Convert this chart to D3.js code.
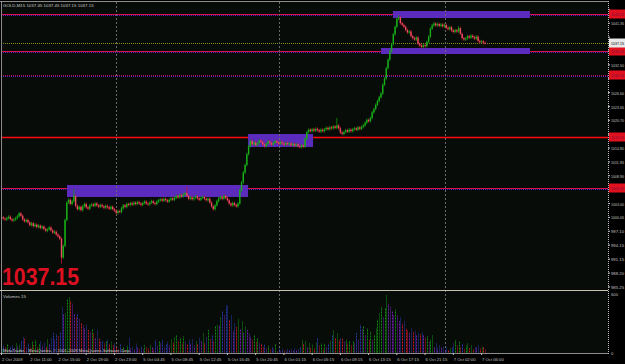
<!DOCTYPE html>
<html>
<head>
<meta charset="utf-8">
<script src="https://cdn.jsdelivr.net/npm/d3@7"></script>
<style>
  body { margin: 0; background: #000; }
  svg { display: block; }
  text { font-family: "Liberation Sans", Arial, sans-serif; }
</style>
</head>
<body>
<div id="chart"></div>
<script>
// GOLD M15 closes, one per bar (open = previous close)
var closes = [
  1000.1, 999.8, 999.6, 999.9, 1000.2, 999.7, 999.4, 999.6, 999.9, 1000.3,
  1000.9, 1000.4, 999.6, 999.2, 999.5, 999.0, 998.4, 998.8, 998.2, 998.5,
  998.0, 998.3, 997.8, 998.1, 997.6, 997.2, 997.5, 997.9, 997.3, 996.8,
  997.0, 996.4, 996.0, 995.5, 991.5, 994.0, 999.5, 1003.2, 1003.8, 1002.9,
  1003.5, 1004.6, 1002.5, 1001.8, 1002.3, 1001.6, 1002.4, 1002.9, 1002.2, 1001.9,
  1002.6, 1002.8, 1002.5, 1003.0, 1002.6, 1002.3, 1002.7, 1002.4, 1002.1, 1002.5,
  1002.2, 1001.9, 1002.3, 1001.8, 1001.5, 1001.0, 1001.4, 1001.2, 1002.0, 1002.6,
  1002.3, 1002.9, 1002.7, 1003.1, 1002.8, 1003.2, 1002.9, 1003.3, 1003.0, 1002.7,
  1003.1, 1003.4, 1003.0, 1002.8, 1003.2, 1003.5, 1003.1, 1002.9, 1003.4, 1003.7,
  1003.9, 1003.6, 1004.0, 1003.7, 1003.4, 1003.8, 1004.1, 1003.8, 1004.2, 1004.6,
  1004.3, 1004.8, 1004.5, 1004.9, 1005.2, 1004.6, 1004.0, 1004.3, 1003.9, 1004.2,
  1004.5, 1004.1, 1003.8, 1004.2, 1004.4, 1004.0, 1003.7, 1004.0, 1003.2, 1002.4,
  1001.8, 1002.6, 1003.5, 1004.1, 1004.4, 1004.0, 1004.6, 1004.2, 1003.7, 1003.0,
  1002.6, 1003.1, 1002.7, 1002.4, 1003.0, 1005.8, 1007.5, 1009.6, 1011.2, 1013.5,
  1015.2, 1016.3, 1015.6, 1016.0, 1015.4, 1015.8, 1016.4, 1016.1, 1015.6, 1015.2,
  1015.7, 1016.2, 1015.9, 1015.5, 1015.9, 1016.3, 1016.0, 1015.7, 1016.1, 1015.8,
  1015.5, 1015.9, 1015.6, 1015.8, 1015.4, 1015.7, 1015.3, 1015.6, 1015.2, 1015.0,
  1015.4, 1015.1, 1016.8, 1018.2, 1018.7, 1018.4, 1018.8, 1018.5, 1018.9, 1018.6,
  1018.3, 1018.7, 1018.4, 1018.8, 1019.1, 1018.8, 1019.2, 1019.0, 1019.4, 1019.1,
  1019.6, 1019.0, 1018.1, 1017.8, 1018.2, 1018.6, 1018.3, 1018.7, 1018.4, 1018.8,
  1019.0, 1018.7, 1019.2, 1018.9, 1019.3, 1019.6, 1020.2, 1020.8, 1020.5, 1021.2,
  1022.4, 1023.1, 1024.0, 1024.8, 1025.6, 1026.4, 1028.3, 1029.6, 1031.8, 1033.6,
  1035.4, 1036.9, 1039.0, 1040.6, 1042.3, 1042.6, 1041.4, 1041.0, 1040.6, 1039.9,
  1039.4, 1039.6, 1038.6, 1038.2, 1037.9, 1038.3, 1037.0, 1036.6, 1036.3, 1036.7,
  1036.5, 1037.4, 1038.5, 1040.2, 1040.9, 1041.3, 1040.9, 1041.2, 1040.8, 1041.1,
  1040.7, 1041.0, 1040.4, 1040.1, 1040.5, 1039.8, 1039.5, 1039.9, 1039.6, 1040.3,
  1039.1, 1038.2, 1037.9, 1038.1, 1038.6, 1038.3, 1038.7, 1038.4, 1038.1, 1038.5,
  1037.6, 1037.3, 1037.5, 1037.2, 1037.15
];

// tick volume per bar
var volumes = [
  40, 70, 55, 90, 35, 60, 80, 45, 100, 65,
  85, 120, 165, 140, 60, 95, 50, 110, 75, 130,
  55, 90, 120, 70, 105, 60, 135, 85, 150, 200,
  130, 190, 170, 210, 470, 390, 410, 540, 570, 530,
  500, 400, 370, 400, 350, 300, 280, 250, 290, 230,
  210, 240, 200, 150, 230, 140, 110, 125, 95, 115,
  130, 85, 110, 75, 95, 60, 40, 85, 30, 55,
  25, 70, 150, 45, 60, 35, 90, 50, 40, 65,
  30, 75, 55, 40, 80, 60, 35, 130, 70, 120,
  95, 130, 60, 85, 110, 70, 140, 100, 160, 180,
  120, 150, 90, 165, 110, 80, 130, 95, 140, 70,
  115, 90, 150, 125, 200, 100, 160, 230, 140, 180,
  120, 270, 290, 280, 360, 420, 380, 475, 490, 330,
  390, 220, 300, 260, 350, 240, 320, 200, 270, 230,
  200, 160, 130, 180, 110, 150, 100, 90, 60, 80,
  45, 70, 35, 55, 30, 85, 20, 40, 15, 35,
  25, 10, 40, 20, 30, 15, 45, 25, 35, 60,
  130, 90, 120, 60, 100, 45, 85, 40, 95, 150,
  70, 95, 40, 85, 60, 90, 120, 180, 230, 150,
  200, 130, 150, 140, 110, 130, 90, 120, 80, 115,
  100, 200, 130, 285, 240, 270, 180, 250, 130, 220,
  130, 180, 250, 340, 400, 470, 360, 455, 585, 500,
  475, 420, 390, 440, 380, 320, 360, 290, 320, 250,
  230, 200, 250, 210, 220, 180, 200, 190, 210, 175,
  150, 165, 110, 130, 180, 60, 95, 40, 75, 50,
  65, 30, 55, 20, 45, 60, 95, 130, 70, 110,
  50, 85, 40, 70, 95, 45, 80, 35, 60, 50,
  75, 40, 65, 55, 30
];

// long wicks
var spikeIdx = [34, 41, 105, 190, 225, 259];
var spikePrice = [990.2, 1006.0, 1006.6, 1021.2, 1043.1, 1040.8];

var timeLabels = ["2 Oct 2009", "2 Oct 11:00", "2 Oct 15:00", "2 Oct 19:00", "2 Oct 23:00",
  "5 Oct 04:45", "5 Oct 08:45", "5 Oct 12:45", "5 Oct 16:45", "5 Oct 20:45",
  "6 Oct 01:15", "6 Oct 05:15", "6 Oct 09:15", "6 Oct 13:15", "6 Oct 17:15",
  "6 Oct 21:15", "7 Oct 02:00", "7 Oct 06:00"];
var timeLabelIdx = [0, 16, 32, 48, 64, 80, 96, 112, 128, 144, 160, 176, 192, 208, 224, 240, 256, 272];
var dayBreakIdx = [65, 157, 251];

var priceTicks = [985.25, 988.20, 991.15, 994.15, 997.10, 1000.05, 1003.00, 1005.95, 1008.90,
  1011.85, 1014.80, 1017.75, 1020.70, 1023.65, 1026.60, 1029.55, 1032.50, 1035.45,
  1038.40, 1041.35, 1044.30];
var volTicks = [0, 600];

// horizontal levels drawn on the chart
var levelPrices = [1043.32, 1035.45, 1030.34, 1017.15, 1006.30];

// purple boxes (bar index range, price range)
var zoneStart = [37.1, 139.7, 221.8, 215.0];
var zoneEnd = [139.7, 176.5, 299.4, 299.4];
var zoneTop = [1006.94, 1017.79, 1043.96, 1036.09];
var zoneBottom = [1004.39, 1015.03, 1042.47, 1034.81];

var lastPrice = 1037.15;
var title = "GOLD,M15  1037.45 1037.45 1037.15 1037.15";

// layout
var W = 625, H = 364;
var plotLeft = 1, plotRight = 608;
var priceTop = 2, priceBottom = 290;
var volTop = 292, volBottom = 353;
var labelW = 13; // axis label width

var svg = d3.select("#chart").append("svg").attr("width", W).attr("height", H);
svg.append("rect").attr("width", W).attr("height", H).attr("fill", "#000");
svg.append("rect").attr("x", plotLeft).attr("y", priceTop)
  .attr("width", plotRight - plotLeft).attr("height", volBottom - priceTop).attr("fill", "#080c08");

var x = d3.scaleLinear().domain([0, 274]).range([1.5, 1.5 + 274 * 1.765]);
var y = d3.scaleLinear().domain([984.6, 984.6 + 288 / 4.70]).range([priceBottom, priceTop]);
var yv = d3.scaleLinear().domain([0, 600]).range([352.5, 294]);

var bars = closes.map(function (c, i) {
  var o = i == 0 ? closes[0] : closes[i - 1];
  var hi = Math.max(o, c) + 0.3, lo = Math.min(o, c) - 0.3;
  var k = spikeIdx.indexOf(i);
  if (k >= 0) {
    if (spikePrice[k] > hi) hi = spikePrice[k];
    else lo = Math.min(lo, spikePrice[k]);
  }
  return { i: i, o: o, c: c, h: hi, l: lo, v: volumes[i] };
});

// level lines (under the boxes)
var gLevels = svg.append("g");
levelPrices.forEach(function (p, k) {
  var yy = Math.round(y(p)) + 0.5;
  if (k == 3) {
    gLevels.append("line").attr("x1", plotLeft).attr("x2", plotRight)
      .attr("y1", yy).attr("y2", yy).attr("stroke", "#ff0814").attr("stroke-width", 1.6);
  } else {
    gLevels.append("line").attr("x1", plotLeft).attr("x2", plotRight)
      .attr("y1", yy + 1).attr("y2", yy + 1).attr("stroke", "#5a20b0")
      .attr("stroke-dasharray", "1,1");
    gLevels.append("line").attr("x1", plotLeft).attr("x2", plotRight)
      .attr("y1", yy).attr("y2", yy).attr("stroke", k == 2 ? "#b8104a" : "#d8104c")
      .attr("stroke-dasharray", k == 2 ? "1,1" : null);
  }
});

// bid line
svg.append("line").attr("x1", plotLeft).attr("x2", plotRight)
  .attr("y1", Math.round(y(lastPrice)) + 0.5).attr("y2", Math.round(y(lastPrice)) + 0.5)
  .attr("stroke", "#8a8a20").attr("stroke-dasharray", "1,1");

// purple boxes
svg.append("g").selectAll("rect").data(zoneStart).enter().append("rect")
  .attr("x", function (d, k) { return x(zoneStart[k]); })
  .attr("width", function (d, k) { return x(zoneEnd[k]) - x(zoneStart[k]); })
  .attr("y", function (d, k) { return y(zoneTop[k]); })
  .attr("height", function (d, k) { return y(zoneBottom[k]) - y(zoneTop[k]); })
  .attr("fill", "#5b2bbd");

// day separators
svg.append("g").selectAll("line").data(dayBreakIdx).enter().append("line")
  .attr("x1", function (d) { return Math.round(x(d)) + 0.5; })
  .attr("x2", function (d) { return Math.round(x(d)) + 0.5; })
  .attr("y1", priceTop).attr("y2", volBottom)
  .attr("stroke", "#6a6a6a").attr("stroke-dasharray", "2,2");

// candles
var gC = svg.append("g");
gC.selectAll("line").data(bars).enter().append("line")
  .attr("x1", function (d) { return x(d.i); })
  .attr("x2", function (d) { return x(d.i); })
  .attr("y1", function (d) { return y(d.h); })
  .attr("y2", function (d) { return y(d.l); })
  .attr("stroke", function (d) { return d.c >= d.o ? "#109a10" : "#c81838"; })
  .attr("stroke-width", 0.8);
gC.selectAll("rect").data(bars).enter().append("rect")
  .attr("x", function (d) { return x(d.i) - 0.7; })
  .attr("width", 1.4)
  .attr("y", function (d) { return y(Math.max(d.o, d.c)); })
  .attr("height", function (d) { return Math.max(1, Math.abs(y(d.o) - y(d.c))); })
  .attr("fill", function (d) { return d.c >= d.o ? "#18b018" : "#ec5060"; });

// volume bars
function volColor(d) {
  var prev = d.i ? volumes[d.i - 1] : 0;
  var up = d.c >= d.o;
  if (d.v >= prev) return up ? "#109a10" : "#2840c0";
  return up ? "#7a22c0" : "#e01828";
}
svg.append("g").selectAll("line").data(bars).enter().append("line")
  .attr("x1", function (d) { return Math.round(x(d.i)) + 0.5; })
  .attr("x2", function (d) { return Math.round(x(d.i)) + 0.5; })
  .attr("y1", yv(0)).attr("y2", function (d) { return yv(d.v); })
  .attr("stroke", volColor).attr("stroke-width", 0.9)
  .attr("stroke-dasharray", function (d) { return d.i % 2 ? "2,1" : "1,1"; });

// frame
var frame = svg.append("g").attr("stroke", "#8c8c8c").attr("fill", "none");
frame.append("line").attr("x1", 0).attr("x2", plotRight).attr("y1", 1.5).attr("y2", 1.5);
frame.append("line").attr("x1", 1.5).attr("x2", 1.5).attr("y1", 1).attr("y2", volBottom);
frame.append("line").attr("x1", 0).attr("x2", plotRight).attr("y1", priceBottom + 0.5).attr("y2", priceBottom + 0.5)
  .attr("stroke", "#c8c0b0");
frame.append("line").attr("x1", 0).attr("x2", plotRight).attr("y1", volBottom + 0.5).attr("y2", volBottom + 0.5);
frame.append("line").attr("x1", plotRight + 0.5).attr("x2", plotRight + 0.5).attr("y1", 1).attr("y2", volBottom + 1)
  .attr("stroke", "#c0c0c0").attr("stroke-dasharray", "1,1");

// price axis labels (ticks hidden under a level tag are skipped)
var tagPrices = levelPrices.concat([lastPrice]);
var gAx = svg.append("g").style("font-size", "4.2px").attr("fill", "#c0c0c0");
priceTicks.forEach(function (v) {
  gAx.append("line").attr("x1", plotRight).attr("x2", plotRight + 2)
    .attr("y1", y(v)).attr("y2", y(v)).attr("stroke", "#c0c0c0");
  var hidden = tagPrices.some(function (p) { return Math.abs(y(p) - y(v) - 1) < 7; });
  if (hidden) return;
  gAx.append("text").attr("x", 611).attr("y", y(v) + 1)
    .attr("textLength", labelW).attr("lengthAdjust", "spacingAndGlyphs")
    .attr("dominant-baseline", "middle").text(v.toFixed(2));
});
volTicks.forEach(function (v) {
  gAx.append("text").attr("x", 611).attr("y", yv(v) + 1)
    .attr("dominant-baseline", "middle").text(v);
});

// level price tags
levelPrices.forEach(function (p) {
  gAx.append("rect").attr("x", plotRight + 1).attr("y", y(p) - 4.5)
    .attr("width", W - plotRight - 1).attr("height", 9).attr("fill", "#e0101e");
  gAx.append("text").attr("x", 611).attr("y", y(p) + 0.5).attr("fill", "#7a1040")
    .attr("textLength", labelW).attr("lengthAdjust", "spacingAndGlyphs")
    .attr("dominant-baseline", "middle").text(p.toFixed(2));
});
gAx.append("rect").attr("x", plotRight + 1).attr("y", y(lastPrice) - 4.5)
  .attr("width", W - plotRight - 1).attr("height", 9).attr("fill", "#e8e8e8");
gAx.append("text").attr("x", 611).attr("y", y(lastPrice) + 0.5).attr("fill", "#000")
  .attr("textLength", labelW).attr("lengthAdjust", "spacingAndGlyphs")
  .attr("dominant-baseline", "middle").text(lastPrice.toFixed(2));

// time axis labels
var gT = svg.append("g").style("font-size", "4.2px").attr("fill", "#c0c0c0");
timeLabels.forEach(function (t, k) {
  var xx = x(timeLabelIdx[k]);
  gT.append("line").attr("x1", xx).attr("x2", xx).attr("y1", volBottom).attr("y2", volBottom + 2)
    .attr("stroke", "#c0c0c0");
  gT.append("text").attr("x", xx + 0.5).attr("y", 360).attr("dominant-baseline", "middle").text(t);
});

// captions
svg.append("text").attr("x", 3).attr("y", 6).style("font-size", "4.4px").attr("fill", "#c8c8c8")
  .attr("dominant-baseline", "middle").text(title);
svg.append("text").attr("x", 3).attr("y", 297).style("font-size", "4.4px").attr("fill", "#c8c8c8")
  .attr("dominant-baseline", "middle").text("Volumes 15");
svg.append("text").attr("x", 3).attr("y", 351).style("font-size", "4.2px").attr("fill", "#c8c8c8")
  .attr("dominant-baseline", "middle").text("MetaTrader - MetaQuotes, \u00a9 2001-2009 MetaQuotes Software Corp.");

// big last price
svg.append("text").attr("x", 2).attr("y", 285)
  .attr("textLength", 77).attr("lengthAdjust", "spacingAndGlyphs")
  .style("font-size", "24px").style("font-weight", "bold").attr("fill", "#dc1020")
  .text(lastPrice.toFixed(2));
</script>
</body>
</html>
